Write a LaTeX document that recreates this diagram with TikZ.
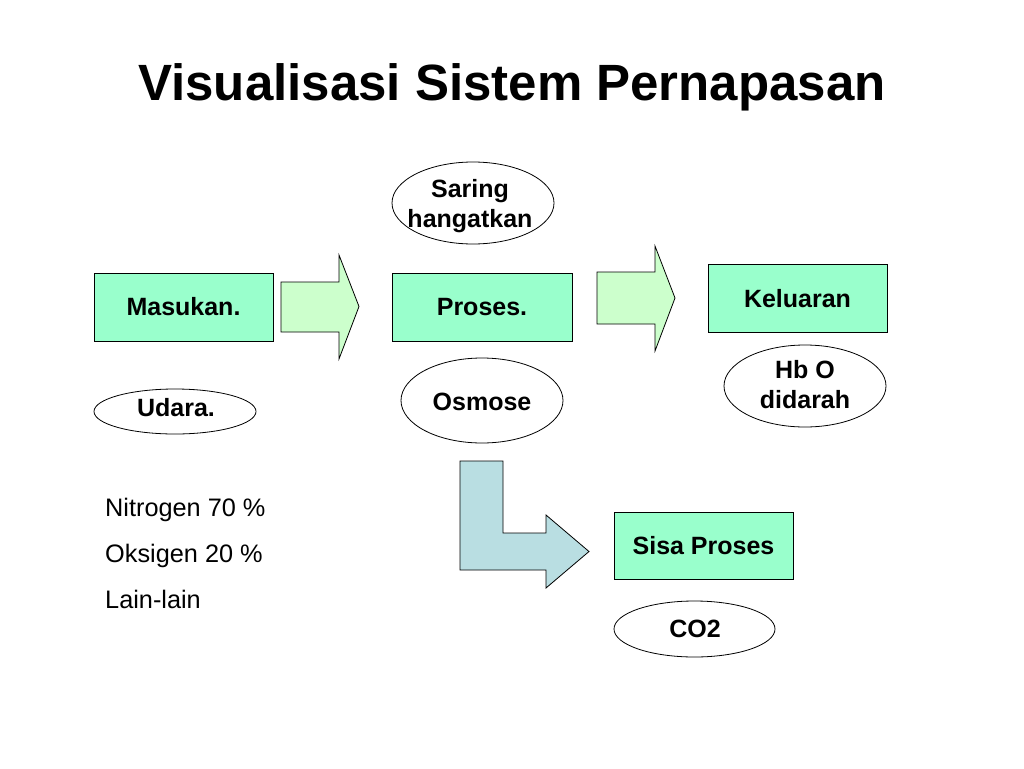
\documentclass[tikz,border=0pt]{standalone}
\usepackage{fontspec}
\setmainfont{Liberation Sans}
\usetikzlibrary{shapes.geometric}
\definecolor{boxfill}{RGB}{153,255,204}
\definecolor{arrfill}{RGB}{204,255,204}
\definecolor{bentfill}{RGB}{185,222,226}
\begin{document}
\begin{tikzpicture}[x=1pt,y=-1pt,
  txt/.style={font=\fontsize{25}{30}\selectfont\bfseries},
  box/.style={draw=black,line width=0.8pt,fill=boxfill,rectangle,minimum width=179pt,minimum height=68pt,inner sep=0pt,txt},
  oval/.style={draw=black,line width=0.8pt,fill=white,ellipse,inner sep=0pt},
  ovaltext/.style={txt,align=center,inner sep=0pt},
  blockarrow/.style={draw=black,line width=0.8pt,fill=arrfill},
  plain/.style={font=\fontsize{25.3}{30}\selectfont,anchor=base west,inner sep=0pt}]
\useasboundingbox (0,0) rectangle (1024,768);
\fill[white] (0,0) rectangle (1024,768);
% title
\node[font=\fontsize{51}{60}\selectfont\bfseries,anchor=base,inner sep=0pt] (title) at (512,100) {Visualisasi Sistem Pernapasan};
% boxes
\node[box] (masukan) at (183.5,307) {Masukan.};
\node[box,minimum width=180pt] (proses) at (482,307) {Proses.};
\node[box] (keluaran) at (797.5,298.5) {Keluaran};
\node[box,minimum height=67pt] (sisa) at (703.5,546) {Sisa Proses};
% ellipses
\node[oval,minimum width=162pt,minimum height=82pt] (saring) at (473,203) {};
\node[ovaltext] (saringt) at (470,206) {Saring\\hangatkan};
\node[oval,minimum width=162pt,minimum height=85pt] (osmose) at (482,400.5) {};
\node[ovaltext] (osmoset) at (482,402) {Osmose};
\node[oval,minimum width=162pt,minimum height=45pt] (udara) at (175,411.5) {};
\node[ovaltext] (udarat) at (176,408) {Udara.};
\node[oval,minimum width=162pt,minimum height=82pt] (hbo) at (805,386) {};
\node[ovaltext] (hbot) at (805,385) {Hb O\\didarah};
\node[oval,minimum width=161pt,minimum height=56pt] (co2) at (694.5,629) {};
\node[ovaltext] (co2t) at (695,629) {CO2};
% block arrows
\draw[blockarrow] (281,282) -- (339,282) -- (339,255) -- (359,306.5) -- (339,359) -- (339,332) -- (281,332) -- cycle;
\draw[blockarrow] (597,272) -- (655,272) -- (655,246) -- (675,298) -- (655,351) -- (655,324) -- (597,324) -- cycle;
\draw[blockarrow,fill=bentfill] (460,461) -- (503,461) -- (503,533) -- (546,533) -- (546,515) -- (589,551.5) -- (546,588) -- (546,570) -- (460,570) -- cycle;
% list
\node[plain] (n1) at (105,516) {Nitrogen 70 \%};
\node[plain] (n2) at (105,562) {Oksigen 20 \%};
\node[plain] (n3) at (105,608) {Lain-lain};
\end{tikzpicture}
\end{document}
